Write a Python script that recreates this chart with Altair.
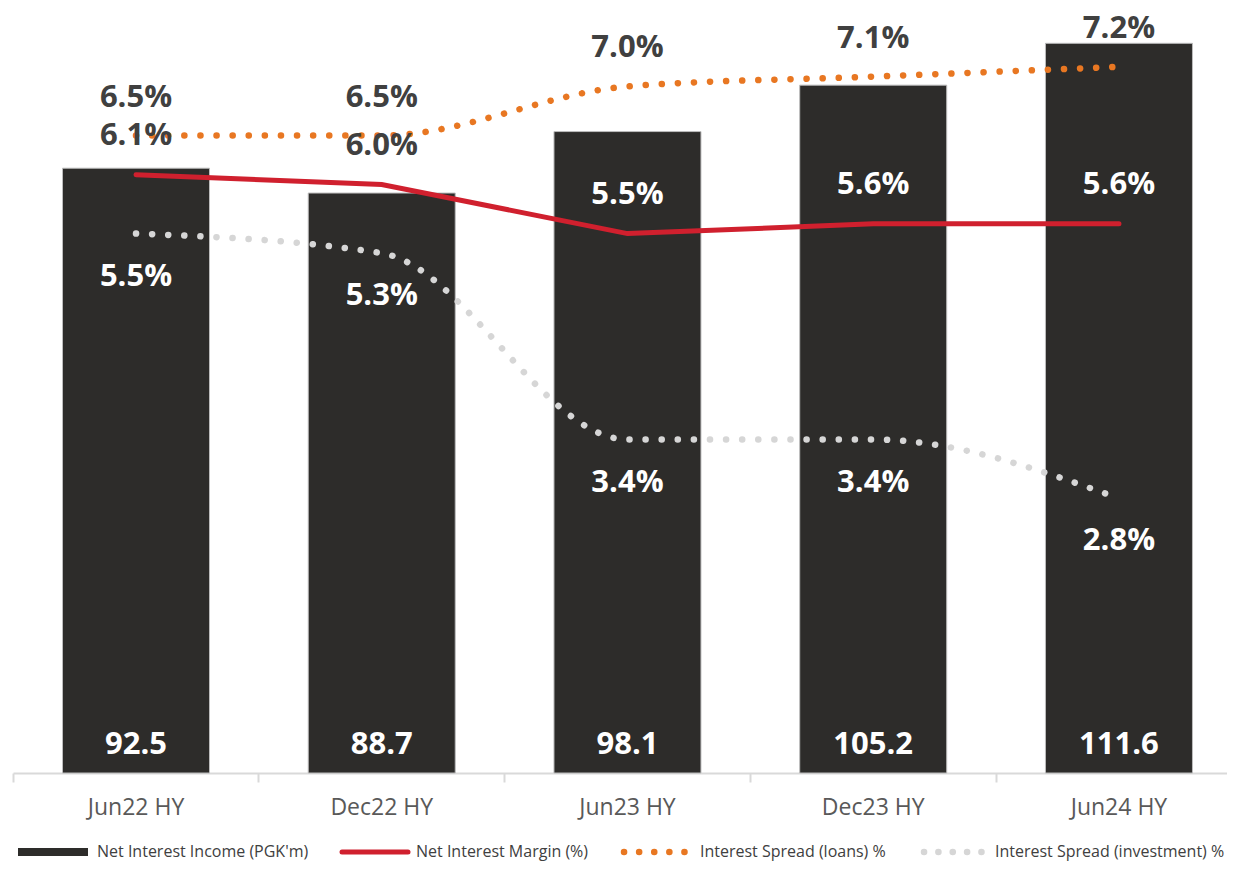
import altair as alt
import pandas as pd

# ---- data ----
categories = ["Jun22 HY", "Dec22 HY", "Jun23 HY", "Dec23 HY", "Jun24 HY"]
net_interest_income = [92.5, 88.7, 98.1, 105.2, 111.6]
net_interest_margin = [6.1, 6.0, 5.5, 5.6, 5.6]
spread_loans = [6.5, 6.5, 7.0, 7.1, 7.2]
spread_investment = [5.5, 5.3, 3.4, 3.4, 2.8]

FONT = "Open Sans"
BAR_COLOR = "#2d2c2a"
RED = "#d0202e"
ORANGE = "#e87722"
GREY = "#d6d6d6"
DARK_TXT = "#404040"

BAR_MAX = 117.0
PCT_MAX = BAR_MAX / 15.0

df = pd.DataFrame({
    "cat": categories,
    "nii": net_interest_income,
    "nim": net_interest_margin,
    "loans": spread_loans,
    "inv": spread_investment,
})
# a label placed above a line point is dark when it sits above the bar, white when inside it
df["nim_dark"] = (df["nim"] * 15 + 6) > df["nii"]
df["loans_dark"] = (df["loans"] * 15 + 6) > df["nii"]

base = alt.Chart(df)

x = alt.X(
    "cat:N",
    sort=categories,
    title=None,
    scale=alt.Scale(paddingInner=0.4018, paddingOuter=0.171, align=0.589),
    axis=alt.Axis(
        labelFont=FONT, labelFontSize=23, labelColor="#595959", labelPadding=14,
        domainColor="#d9d9d9", domainWidth=2, tickColor="#d9d9d9", tickWidth=2,
        tickSize=9, bandPosition=-0.336, labelAngle=0, grid=False,
    ),
)

ybar = alt.Scale(domain=[0, BAR_MAX], nice=False, zero=True)
ypct = alt.Scale(domain=[0, PCT_MAX], nice=False, zero=True)

bars = base.mark_bar(color=BAR_COLOR, stroke="#bdbdbd", strokeWidth=1).encode(
    x=x, y=alt.Y("nii:Q", scale=ybar, axis=None)
)

bar_text = base.transform_calculate(zero="0").mark_text(
    font=FONT, fontSize=31, fontWeight="bold", color="white", dy=-28
).encode(
    x=x, y=alt.Y("zero:Q", scale=ybar, axis=None),
    text=alt.Text("nii:Q", format=".1f"),
)

line_nim = base.mark_line(color=RED, strokeWidth=5, strokeCap="round", interpolate="linear").encode(
    x=x, y=alt.Y("nim:Q", scale=ypct, axis=None)
)
line_loans = base.mark_line(
    color=ORANGE, strokeWidth=6.5, strokeDash=[0.1, 16], strokeCap="round", interpolate="monotone"
).encode(x=x, y=alt.Y("loans:Q", scale=ypct, axis=None))
line_inv = base.mark_line(
    color=GREY, strokeWidth=6.5, strokeDash=[0.1, 16], strokeCap="round", interpolate="monotone"
).encode(x=x, y=alt.Y("inv:Q", scale=ypct, axis=None))


def pct_labels(field, dy, dark_field=None):
    color = alt.value("white")
    if dark_field is not None:
        color = alt.condition(f"datum.{dark_field}", alt.value(DARK_TXT), alt.value("white"))
    return base.transform_calculate(
        lbl=f"format(datum.{field}, '.1f') + '%'"
    ).mark_text(font=FONT, fontSize=31, fontWeight="bold", dy=dy).encode(
        x=x, y=alt.Y(f"{field}:Q", scale=ypct, axis=None), text="lbl:N", color=color
    )


txt_loans = pct_labels("loans", -38, "loans_dark")
txt_nim = pct_labels("nim", -39, "nim_dark")
txt_inv = pct_labels("inv", 43)

# ---- legend (decoration, drawn below the axis) ----
LEG_Y = 844
leg_df = pd.DataFrame({"k": [0]})
lb = alt.Chart(leg_df)


def leg_text(txt, x0):
    return lb.mark_text(font=FONT, fontSize=16, color=DARK_TXT, align="left", baseline="middle", text=txt).encode(
        x=alt.value(x0), y=alt.value(LEG_Y)
    )


leg = [
    lb.mark_rule(color=BAR_COLOR, strokeWidth=8).encode(x=alt.value(5), x2=alt.value(75), y=alt.value(LEG_Y)),
    leg_text("Net Interest Income (PGK'm)", 84),
    lb.mark_rule(color=RED, strokeWidth=5, strokeCap="round").encode(
        x=alt.value(329), x2=alt.value(395), y=alt.value(LEG_Y)),
    leg_text("Net Interest Margin (%)", 403),
    lb.mark_rule(color=ORANGE, strokeWidth=6.5, strokeCap="round", strokeDash=[0.1, 15]).encode(
        x=alt.value(611), x2=alt.value(672), y=alt.value(LEG_Y)),
    leg_text("Interest Spread (loans) %", 687),
    lb.mark_rule(color=GREY, strokeWidth=6.5, strokeCap="round", strokeDash=[0.1, 14.25]).encode(
        x=alt.value(911), x2=alt.value(969), y=alt.value(LEG_Y)),
    leg_text("Interest Spread (investment) %", 982),
]

chart = alt.layer(
    bars, bar_text, line_inv, line_loans, line_nim, txt_inv, txt_nim, txt_loans, *leg
).resolve_scale(y="independent").properties(
    width=1214,
    height=765,
    autosize=alt.AutoSizeParams(type="none"),
    padding={"left": 5, "top": 0, "right": 0, "bottom": 90},
    background="white",
).configure_view(stroke=None)

chart.save("out.html", embed_options={"renderer": "svg", "actions": False})
